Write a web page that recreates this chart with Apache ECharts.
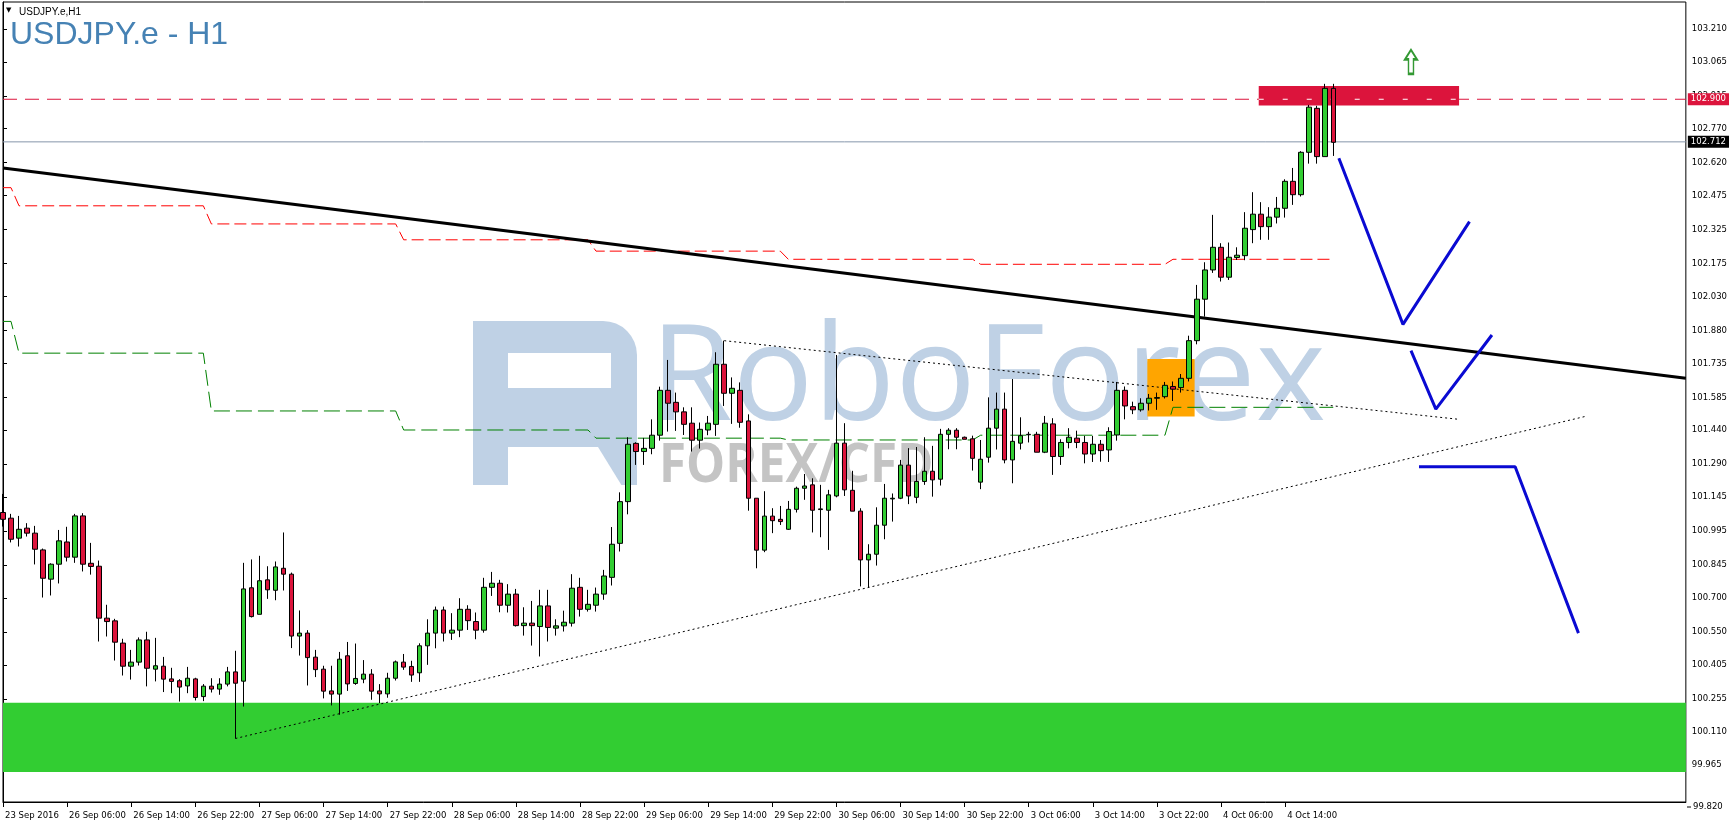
<!DOCTYPE html>
<html><head><meta charset="utf-8">
<script src="https://cdn.jsdelivr.net/npm/echarts@6/dist/echarts.min.js"></script>
<style>html,body{margin:0;padding:0;background:#fff;}#c{width:1730px;height:822px;}</style>
</head><body><div id="c"></div>
<script>
// ---------- data ----------
const timeLabels = ['23 Sep 2016','26 Sep 06:00','26 Sep 14:00','26 Sep 22:00','27 Sep 06:00','27 Sep 14:00','27 Sep 22:00','28 Sep 06:00','28 Sep 14:00','28 Sep 22:00','29 Sep 06:00','29 Sep 14:00','29 Sep 22:00','30 Sep 06:00','30 Sep 14:00','30 Sep 22:00','3 Oct 06:00','3 Oct 14:00','3 Oct 22:00','4 Oct 06:00','4 Oct 14:00'];
const yTicks = [103.210,103.065,102.915,102.770,102.620,102.475,102.325,102.175,102.030,101.880,101.735,101.585,101.440,101.290,101.145,100.995,100.845,100.700,100.550,100.405,100.255,100.110,99.965];
const bottomPriceLabel = '99.820';

const open = [101.077,101.052,100.964,101.008,100.986,100.912,100.783,100.849,100.947,100.880,101.062,100.853,100.840,100.611,100.599,100.501,100.399,100.417,100.515,100.386,
100.399,100.343,100.335,100.312,100.343,100.265,100.311,100.298,100.320,100.374,100.333,100.745,100.628,100.780,100.734,100.831,100.805,100.532,100.545,100.439,
100.386,100.290,100.276,100.445,100.323,100.342,100.364,100.290,100.277,100.346,100.417,100.398,100.370,100.489,100.545,100.647,100.545,100.558,100.650,100.596,
100.558,100.747,100.765,100.668,100.717,100.578,100.589,100.574,100.665,100.567,100.577,100.589,100.747,100.650,100.668,100.717,100.791,100.941,101.125,101.382,
101.346,101.360,101.418,101.616,101.563,101.521,101.471,101.396,101.441,101.466,101.731,101.603,101.616,101.481,101.140,100.911,101.061,101.047,101.003,101.091,
101.184,101.199,101.090,101.087,101.150,101.383,101.175,101.083,100.868,100.893,101.021,101.137,101.140,101.286,101.144,101.214,101.259,101.224,101.422,101.440,
101.409,101.402,101.211,101.321,101.449,101.533,101.309,101.383,101.420,101.422,101.343,101.468,101.324,101.386,101.405,101.386,101.335,101.378,101.353,101.419,
101.616,101.544,101.530,101.559,101.581,101.588,101.633,101.628,101.669,101.835,102.018,102.147,102.247,102.115,102.202,102.210,102.325,102.393,102.338,102.380,
102.419,102.538,102.479,102.666,102.860,102.647,102.948];
const high = [101.159,101.071,101.062,101.030,101.018,100.918,100.853,101.000,101.014,101.071,101.074,100.943,100.865,100.670,100.608,100.520,100.471,100.526,100.551,100.524,
100.440,100.392,100.342,100.396,100.348,100.320,100.346,100.346,100.396,100.467,100.855,100.870,100.886,100.840,100.861,100.989,100.812,100.645,100.558,100.471,
100.401,100.401,100.462,100.506,100.499,100.426,100.386,100.320,100.370,100.424,100.453,100.423,100.500,100.606,100.662,100.662,100.633,100.699,100.668,100.636,
100.789,100.815,100.780,100.761,100.740,100.659,100.687,100.736,100.736,100.606,100.644,100.805,100.789,100.736,100.746,100.824,101.013,101.166,101.409,101.387,
101.406,101.488,101.632,101.750,101.606,101.541,101.541,101.474,101.503,101.784,101.835,101.673,101.651,101.510,101.140,101.171,101.096,101.106,101.128,101.191,
101.247,101.228,101.199,101.177,101.772,101.471,101.261,101.096,100.937,101.100,101.203,101.161,101.309,101.361,101.366,101.409,101.371,101.446,101.449,101.449,
101.412,101.416,101.397,101.585,101.606,101.606,101.666,101.497,101.433,101.433,101.503,101.493,101.400,101.449,101.438,101.415,101.415,101.397,101.453,101.653,
101.633,101.566,101.581,101.600,101.606,101.653,101.655,101.688,101.857,102.081,102.181,102.390,102.265,102.268,102.247,102.402,102.490,102.446,102.424,102.469,
102.547,102.597,102.671,102.875,102.871,102.968,102.968];
const low = [101.015,100.945,100.927,100.971,100.848,100.702,100.711,100.764,100.861,100.855,100.817,100.803,100.508,100.530,100.424,100.358,100.340,100.402,100.310,100.332,
100.285,100.280,100.243,100.280,100.248,100.245,100.283,100.273,100.310,100.080,100.221,100.614,100.628,100.696,100.690,100.733,100.479,100.446,100.314,100.351,
100.257,100.226,100.185,100.290,100.317,100.324,100.251,100.236,100.260,100.336,100.383,100.330,100.330,100.405,100.478,100.508,100.515,100.527,100.559,100.518,
100.547,100.709,100.637,100.636,100.574,100.534,100.490,100.442,100.508,100.534,100.552,100.574,100.618,100.640,100.640,100.692,100.755,100.905,101.069,101.287,
101.287,101.334,101.394,101.434,101.437,101.419,101.346,101.359,101.418,101.415,101.547,101.468,101.451,101.085,100.831,100.902,100.986,101.022,101.000,101.077,
101.133,100.989,100.968,100.912,101.144,101.150,101.083,100.751,100.746,100.843,100.959,101.037,101.136,101.114,101.118,101.199,101.147,101.196,101.356,101.356,
101.400,101.262,101.180,101.297,101.355,101.294,101.206,101.355,101.386,101.343,101.339,101.243,101.287,101.360,101.361,101.294,101.300,101.301,101.300,101.394,
101.488,101.511,101.522,101.527,101.530,101.580,101.569,101.606,101.655,101.819,101.941,102.134,102.096,102.103,102.191,102.190,102.265,102.280,102.280,102.352,
102.378,102.434,102.471,102.616,102.616,102.647,102.650];
const close = [101.047,100.959,101.003,100.986,100.915,100.787,100.849,100.952,100.880,101.062,100.849,100.839,100.611,100.596,100.505,100.399,100.417,100.515,100.390,100.401,
100.342,100.332,100.307,100.346,100.261,100.311,100.298,100.320,100.374,100.324,100.740,100.618,100.776,100.736,100.837,100.805,100.532,100.545,100.437,100.384,
100.289,100.276,100.430,100.321,100.345,100.364,100.289,100.277,100.346,100.418,100.395,100.360,100.489,100.545,100.647,100.545,100.558,100.650,100.600,100.558,
100.747,100.765,100.668,100.717,100.578,100.589,100.578,100.665,100.570,100.577,100.593,100.743,100.650,100.672,100.717,100.797,100.937,101.125,101.378,101.346,
101.360,101.418,101.616,101.559,101.521,101.466,101.396,101.444,101.471,101.731,101.603,101.625,101.475,101.140,100.911,101.061,101.041,101.037,101.091,101.184,
101.194,101.087,101.093,101.155,101.383,101.177,101.083,100.868,100.893,101.021,101.140,101.140,101.286,101.150,101.214,101.259,101.221,101.422,101.440,101.409,
101.400,101.316,101.312,101.449,101.533,101.309,101.391,101.416,101.422,101.343,101.471,101.324,101.386,101.409,101.386,101.335,101.378,101.350,101.434,101.616,
101.547,101.530,101.559,101.581,101.584,101.638,101.621,101.669,101.835,102.018,102.147,102.247,102.115,102.203,102.212,102.331,102.393,102.338,102.380,102.419,
102.538,102.479,102.666,102.865,102.647,102.948,102.710];

// daily stepped levels (start bar of each trading day)
const dayStart = [0, 2, 26, 50, 74, 98, 122, 146];
const upperLevels = [102.51, 102.43, 102.35, 102.28, 102.23, 102.194, 102.172, 102.194];
const lowerLevels = [101.92, 101.78, 101.525, 101.441, 101.405, 101.397, 101.418, 101.541];

// drawn objects (bar index, price)
const trendLine = [[0, 102.597], [210, 101.669]];
const supportDotted = [[29, 100.080], [197.7, 101.503]];
const resistDotted = [[90, 101.835], [181.7, 101.488]];
const supportZone = [0, 210, 100.238, 99.932];
const resistZone = [156.7, 181.7, 102.959, 102.872];
const breakoutBox = [142.8, 148.7, 101.754, 101.500];
const resistLevel = 102.900;
const lastPrice = 102.712;
const bluePath1 = [[166.7, 102.640], [174.7, 101.907], [183.0, 102.36]];
const bluePath2 = [[175.7, 101.791], [178.8, 101.533], [185.8, 101.860]];
const bluePath3 = [[176.7, 101.279], [188.7, 101.279], [196.6, 100.545]];
const upArrow = [[175.7, 103.065]];

// ---------- chart ----------
const N = 211;
const lastBar = close.length - 1;
const cats = Array.from({length: N}, (_, i) => String(i));
const candles = open.map((o, i) => [o, close[i], low[i], high[i]]);
function stepLine(levels) {
  const pts = [];
  levels.forEach((v, k) => {
    const s = dayStart[k];
    const e = k + 1 < dayStart.length ? dayStart[k + 1] - 1 : lastBar;
    pts.push([s, v], [e, v]);
  });
  return pts;
}
const zoneColors = ['#32cd32', '#dc143c', '#ffa500'];
const AX_FONT = 'DejaVu Sans';

const chart = echarts.init(document.getElementById('c'));
function lineS(data, color, width, type, z, extra) {
  return Object.assign({
    type: 'line', xAxisIndex: 1, yAxisIndex: 0, data: data, symbol: 'none', silent: true,
    lineStyle: {color: color, width: width, type: type}, z: z, animation: false
  }, extra || {});
}
const wm = '#bfd1e5';
chart.setOption({
  animation: false,
  backgroundColor: '#ffffff',
  grid: {left: 3, right: 43, top: 2, bottom: 20, show: true, borderColor: '#000', borderWidth: 1},
  xAxis: [{
    type: 'category', data: cats, boundaryGap: false,
    axisLine: {show: true, lineStyle: {color: '#000'}},
    axisTick: {show: true, length: 5, interval: (i) => i % 8 === 0 && i / 8 < timeLabels.length, lineStyle: {color: '#000'}},
    axisLabel: {interval: (i) => i % 8 === 0 && i / 8 < timeLabels.length,
      formatter: (v, i) => timeLabels[i / 8] || '', align: 'left', margin: 9,
      fontSize: 8.5, fontFamily: AX_FONT, color: '#000', padding: [0, 0, 0, 2]},
    splitLine: {show: false}
  }, {type: 'value', min: 0, max: N - 1, show: false}],
  yAxis: {
    type: 'value', position: 'right', min: 99.800, max: 103.329,
    axisLine: {show: true, lineStyle: {color: '#000'}},
    axisTick: {show: true, customValues: yTicks, length: 4, lineStyle: {color: '#000'}},
    axisLabel: {customValues: yTicks, formatter: (v) => Number(v).toFixed(3), fontSize: 8.5, fontFamily: AX_FONT, color: '#000', margin: 6},
    splitLine: {show: false}
  },
  graphic: [
    {type: 'rect', z: 0, silent: true, shape: {x: 473, y: 321, width: 164, height: 164, r: [0, 34, 0, 0]}, style: {fill: wm}},
    {type: 'rect', z: 0, silent: true, shape: {x: 508, y: 353, width: 103, height: 35}, style: {fill: '#fff'}},
    {type: 'polygon', z: 0, silent: true, shape: {points: [[508, 447], [598, 447], [622, 486], [508, 486]]}, style: {fill: '#fff'}},
    {type: 'text', z: 0, silent: true, style: {x: 650, y: 382, text: 'RoboForex', fill: wm, font: '134px "Open Sans"', verticalAlign: 'middle'}},
    {type: 'text', z: 0, silent: true, x: 659, y: 467, scaleX: 0.93, style: {x: 0, y: 0, text: 'FOREX/CFD', fill: '#c4c4c4', font: 'bold 53px "Open Sans"', verticalAlign: 'middle'}},
    {type: 'text', z: 10, style: {x: 10, y: 19, text: 'USDJPY.e - H1', fill: '#4682b4', font: '32px "Liberation Sans"', verticalAlign: 'top'}},
    {type: 'text', z: 10, style: {x: 6, y: 7, text: '\u25BC', fill: '#000', font: '7px "DejaVu Sans"', verticalAlign: 'top'}},
    {type: 'text', z: 10, style: {x: 19, y: 7, text: 'USDJPY.e,H1', fill: '#000', font: '10px "Liberation Sans"', verticalAlign: 'top'}},
    {type: 'line', z: 10, silent: true, shape: {x1: 1687, y1: 807, x2: 1691, y2: 807}, style: {stroke: '#000', lineWidth: 1}},
    {type: 'text', z: 10, silent: true, style: {x: 1693, y: 807, text: bottomPriceLabel, fill: '#000', font: '8.5px "DejaVu Sans"', verticalAlign: 'middle'}}
  ],
  series: [
    {
      type: 'custom', xAxisIndex: 1, yAxisIndex: 0, z: 1, silent: true, clip: true,
      data: [supportZone, resistZone, breakoutBox],
      encode: {x: [0, 1], y: [2, 3]},
      renderItem: function (params, api) {
        const p1 = api.coord([api.value(0), api.value(2)]);
        const p2 = api.coord([api.value(1), api.value(3)]);
        return {type: 'rect', shape: {x: Math.min(p1[0], p2[0]), y: Math.min(p1[1], p2[1]),
          width: Math.abs(p2[0] - p1[0]), height: Math.abs(p2[1] - p1[1])},
          style: {fill: zoneColors[params.dataIndex]}};
      }
    },
    lineS(stepLine(upperLevels), '#ff0000', 1, [12, 5], 3),
    lineS(stepLine(lowerLevels), '#008000', 1, [16, 6], 3),
    lineS(supportDotted, '#000', 1, [2, 3], 3),
    lineS(resistDotted, '#000', 1, [2, 3], 3),
    lineS(trendLine, '#000', 3, 'solid', 3),
    lineS([[0, resistLevel], [N - 1, resistLevel]], '#dc143c', 1, [14, 8], 3, {
      endLabel: {show: true, formatter: (p) => p.value[1].toFixed(3), backgroundColor: '#dc143c', color: '#fff',
        fontSize: 8.5, fontFamily: AX_FONT, padding: [2, 3, 1, 3], distance: 2}
    }),
    lineS([[resistZone[0], resistLevel], [resistZone[1], resistLevel]], '#ffffff', 1, [5, 19], 4),
    lineS([[0, lastPrice], [N - 1, lastPrice]], '#8696ab', 1, 'solid', 3, {
      endLabel: {show: true, formatter: (p) => p.value[1].toFixed(3), backgroundColor: '#000', color: '#fff',
        fontSize: 8.5, fontFamily: AX_FONT, padding: [2, 3, 1, 3], distance: 2}
    }),
    {
      type: 'candlestick', xAxisIndex: 0, yAxisIndex: 0, data: candles, z: 5, barWidth: 5, silent: true,
      itemStyle: {color: '#32cd32', color0: '#dc143c', borderColor: '#000', borderColor0: '#000', borderWidth: 1}
    },
    lineS(bluePath1, '#0a0ad2', 3, 'solid', 6),
    lineS(bluePath2, '#0a0ad2', 3, 'solid', 6),
    lineS(bluePath3, '#0a0ad2', 3, 'solid', 6),
    {
      type: 'scatter', xAxisIndex: 1, yAxisIndex: 0, data: upArrow, z: 6, silent: true,
      symbol: 'path://M6,0 L12,8 L8.5,8 L8.5,20 L3.5,20 L3.5,8 L0,8 Z', symbolSize: [12, 24],
      itemStyle: {color: 'rgba(0,0,0,0)', borderColor: '#008000', borderWidth: 2}
    }
  ]
});
</script></body></html>
